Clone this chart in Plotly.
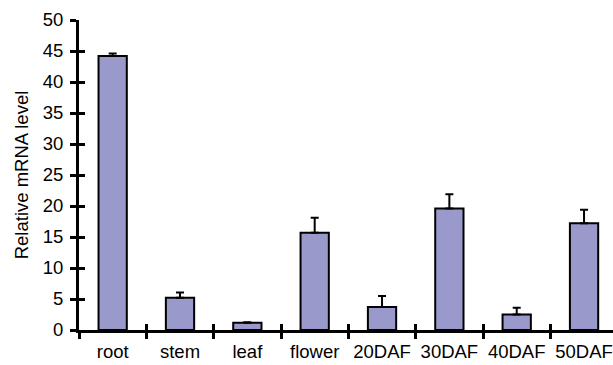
import plotly.graph_objects as go

categories = ["root", "stem", "leaf", "flower", "20DAF", "30DAF", "40DAF", "50DAF"]
values = [44.2, 5.2, 1.15, 15.7, 3.7, 19.6, 2.5, 17.2]
errors = [0.4, 0.85, 0.1, 2.4, 1.8, 2.3, 1.1, 2.2]
y_ticks = [0, 5, 10, 15, 20, 25, 30, 35, 40, 45, 50]
y_title = "Relative mRNA level"

FONT = "Liberation Sans, Arial, sans-serif"
xr = [-0.5, 7.43]
yr = [0, 50]

fig = go.Figure()
fig.add_trace(go.Bar(
    x=categories, y=values,
    marker=dict(color="#9999CC", line=dict(color="black", width=2)),
    width=0.42,
    error_y=dict(type="data", array=errors, arrayminus=[0] * len(errors),
                 symmetric=False, color="black", thickness=2, width=4),
    hoverinfo="skip",
))
# invisible helper trace for overlay axes (inside tick halves)
fig.add_trace(go.Scatter(
    x=categories, y=values, mode="markers", marker=dict(opacity=0),
    xaxis="x2", yaxis="y2", hoverinfo="skip", showlegend=False,
))

fig.update_layout(
    width=613, height=365,
    margin=dict(l=79, r=0, t=20, b=35, autoexpand=False),
    paper_bgcolor="white", plot_bgcolor="white",
    showlegend=False,
    font=dict(family=FONT, size=18, color="black"),
    xaxis=dict(
        type="category", range=xr, showgrid=False, zeroline=False,
        showline=True, linecolor="black", linewidth=3, automargin=False,
        ticks="outside", ticklen=6, tickwidth=3, tickcolor="black",
        tickson="boundaries", tickfont=dict(size=18.5, family=FONT),
        tickangle=0, ticklabelstandoff=3,
    ),
    yaxis=dict(
        range=yr, tickvals=y_ticks, showgrid=False, zeroline=False,
        showline=True, linecolor="black", linewidth=3, automargin=False,
        ticks="outside", ticklen=6, tickwidth=3, tickcolor="black",
        tickfont=dict(size=18.5, family=FONT), ticklabelstandoff=3,
        title=dict(text=y_title, font=dict(size=18.5, family=FONT), standoff=10),
    ),
    xaxis2=dict(
        type="category", range=xr, overlaying="x", anchor="y2", side="bottom",
        showgrid=False, zeroline=False, showline=False,
        ticks="inside", ticklen=6, tickwidth=3, tickcolor="black",
        tickson="boundaries", showticklabels=False,
    ),
    yaxis2=dict(
        range=yr, tickvals=y_ticks, overlaying="y", anchor="x2", side="left",
        showgrid=False, zeroline=False, showline=False,
        ticks="inside", ticklen=6, tickwidth=3, tickcolor="black",
        showticklabels=False,
    ),
)

fig.write_html(
    "out.html",
    config={"displayModeBar": False},
    post_script="document.body.style.margin='0';document.body.style.padding='0';",
)
